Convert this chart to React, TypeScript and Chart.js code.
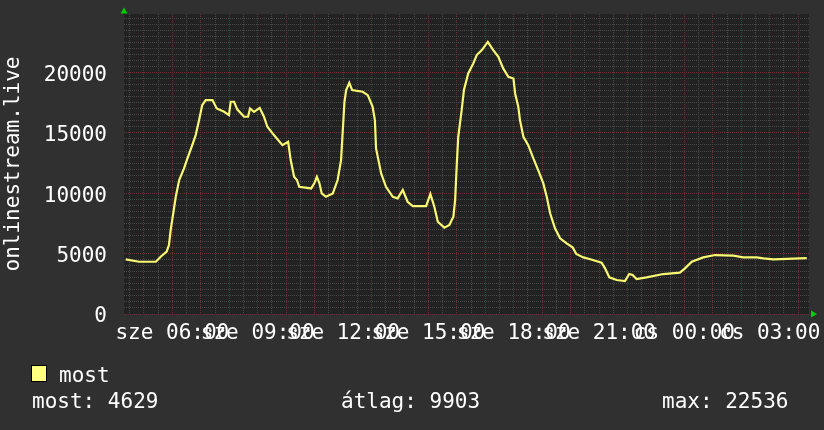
import React, { useEffect, useRef } from "react";
import { Chart, registerables } from "chart.js";

Chart.register(...registerables);

// time in hours from the start day's midnight (values >= 24 fall on the next day)
const times = [
  4.36, 4.83, 5.42, 5.59, 5.80, 5.88, 5.94, 6.04, 6.12, 6.24,
  6.41, 6.53, 6.70, 6.82, 6.94, 7.05, 7.17, 7.41, 7.56, 7.82,
  7.99, 8.05, 8.17, 8.28, 8.52, 8.66, 8.73, 8.87, 9.07, 9.22,
  9.34, 9.57, 9.87, 10.07, 10.16, 10.28, 10.38, 10.46, 10.88, 10.99,
  11.08, 11.17, 11.25, 11.40, 11.64, 11.81, 11.93, 12.05, 12.11, 12.22,
  12.32, 12.69, 12.87, 13.04, 13.12, 13.16, 13.34, 13.51, 13.75, 13.92,
  14.10, 14.27, 14.45, 14.92, 15.07, 15.21, 15.33, 15.56, 15.74, 15.82,
  15.88, 15.94, 16.00, 16.05, 16.17, 16.25, 16.40, 16.58, 16.70, 16.88,
  17.09, 17.28, 17.46, 17.63, 17.81, 17.99, 18.05, 18.16, 18.22, 18.34,
  18.51, 18.69, 18.86, 19.04, 19.16, 19.28, 19.45, 19.63, 19.86, 20.07,
  20.20, 20.45, 20.69, 21.09, 21.21, 21.36, 21.62, 21.91, 22.06, 22.18,
  22.32, 22.67, 23.26, 23.84, 24.02, 24.26, 24.66, 25.08, 25.72, 26.07,
  26.54, 26.78, 27.13, 28.30,
];

const viewers = [
  4530, 4330, 4330, 4745, 5160, 5710, 6955, 8470, 9710, 11095,
  12060, 12890, 13990, 14820, 16060, 17300, 17720, 17720, 17030, 16750,
  16480, 17580, 17580, 16950, 16340, 16340, 17030, 16750, 17080, 16340,
  15510, 14820, 13990, 14270, 12750, 11370, 11100, 10540, 10400, 10820,
  11370, 10820, 9990, 9710, 9990, 11095, 12750, 17580, 18550, 19150,
  18550, 18410, 18130, 17170, 16060, 13720, 11650, 10540, 9710, 9580,
  10270, 9300, 8940, 8940, 9935, 8885, 7640, 7150, 7370, 7780,
  8060, 9440, 12480, 14680, 16890, 18550, 19930, 20760, 21450, 21860,
  22536, 21860, 21310, 20340, 19650, 19510, 18270, 17170, 16060, 14680,
  13990, 12890, 11920, 10820, 9710, 8340, 7100, 6270, 5850, 5520,
  4970, 4690, 4530, 4250, 3780, 3040, 2815, 2730, 3310, 3230,
  2900, 3040, 3310, 3420, 3780, 4330, 4690, 4885, 4830, 4690,
  4690, 4610, 4530, 4629,
];

const labelHours = [6, 9, 12, 15, 18, 21, 24, 27];
const dayNames = ["sze", "cs"];
const yLabelValues = [0, 5000, 10000, 15000, 20000];

const seriesName = "most";
const axisTitle = "onlinestream.live";
const statLabels = ["most: 4629", "átlag: 9903", "max: 22536"];

const X_MIN = 4.3;
const X_MAX = 28.38;
const Y_MAX = 24850;

const FONT = '21px "DejaVu Sans Mono", monospace';
const LINE_COLOR = "#f8f872";
const MAJOR_GRID = "#6c2f2f";
const MINOR_GRID = "#474747";

function hourLabel(h: number): string {
  const day = h < 24 ? dayNames[0] : dayNames[1];
  const hh = Math.round(h) % 24;
  return `${day} ${String(hh).padStart(2, "0")}:00`;
}

const decorPlugin = {
  id: "decor",
  beforeDraw(chart: any) {
    const { ctx, chartArea } = chart;
    ctx.save();
    ctx.fillStyle = "#303030";
    ctx.fillRect(0, 0, chart.width, chart.height);
    ctx.fillStyle = "#222222";
    ctx.fillRect(chartArea.left, chartArea.top, chartArea.right - chartArea.left, chartArea.bottom - chartArea.top);
    ctx.restore();
  },
  afterDraw(chart: any) {
    const { ctx, chartArea } = chart;
    ctx.save();
    // arrows
    ctx.fillStyle = "#00d000";
    ctx.beginPath();
    ctx.moveTo(chartArea.left - 3.5, 13.5);
    ctx.lineTo(chartArea.left + 3.5, 13.5);
    ctx.lineTo(chartArea.left, 7.5);
    ctx.closePath();
    ctx.fill();
    ctx.beginPath();
    ctx.moveTo(chartArea.right + 2, chartArea.bottom - 3.5);
    ctx.lineTo(chartArea.right + 2, chartArea.bottom + 3.5);
    ctx.lineTo(chartArea.right + 8, chartArea.bottom);
    ctx.closePath();
    ctx.fill();

    ctx.font = FONT;
    ctx.fillStyle = "#ffffff";
    // y axis title
    ctx.save();
    ctx.translate(18.5, (chartArea.top + chartArea.bottom) / 2);
    ctx.rotate(-Math.PI / 2);
    ctx.textAlign = "center";
    ctx.textBaseline = "alphabetic";
    ctx.fillText(axisTitle, 0, 0);
    ctx.restore();

    // legend
    ctx.fillStyle = "#ffff80";
    ctx.fillRect(32, 366, 14, 15);
    ctx.strokeStyle = "#000000";
    ctx.lineWidth = 1;
    ctx.strokeRect(31.5, 365.5, 15, 16);
    ctx.fillStyle = "#ffffff";
    ctx.textAlign = "left";
    ctx.textBaseline = "alphabetic";
    ctx.fillText(seriesName, 59, 382);
    ctx.fillText(statLabels[0], 32, 408);
    ctx.fillText(statLabels[1], 341, 408);
    ctx.fillText(statLabels[2], 662, 408);
    ctx.restore();
  },
};

export default function App() {
  const ref = useRef<HTMLCanvasElement>(null);

  useEffect(() => {
    if (!ref.current) return;
    const data = times.map((t, i) => ({ x: t, y: viewers[i] }));
    const chart = new Chart(ref.current, {
      type: "line",
      data: {
        datasets: [
          {
            label: seriesName,
            data,
            borderColor: LINE_COLOR,
            borderWidth: 2.2,
            pointRadius: 0,
            fill: false,
            tension: 0,
          },
        ],
      },
      options: {
        animation: false,
        responsive: false,
        devicePixelRatio: 1,
        layout: { padding: { top: 14, right: 15, bottom: 0, left: 0 } },
        plugins: {
          legend: { display: false },
          tooltip: { enabled: false },
        },
        scales: {
          x: {
            type: "linear",
            min: X_MIN,
            max: X_MAX,
            afterBuildTicks: (scale: any) => {
              const ticks = [];
              for (let h = Math.ceil(X_MIN * 2) / 2; h <= X_MAX; h += 0.5) ticks.push({ value: h });
              scale.ticks = ticks;
            },
            afterFit: (scale: any) => {
              scale.height = 116;
              scale.paddingLeft = 0;
              scale.paddingRight = 0;
              scale.paddingTop = 0;
              scale.paddingBottom = 0;
            },
            ticks: {
              autoSkip: false,
              maxRotation: 0,
              minRotation: 0,
              padding: 7,
              color: "#ffffff",
              font: { family: '"DejaVu Sans Mono", monospace', size: 21 },
              callback: (v: any) => (labelHours.includes(Number(v)) ? hourLabel(Number(v)) : ""),
            },
            grid: {
              drawTicks: false,
              color: (c: any) => (c.tick && Number.isInteger(c.tick.value) ? MAJOR_GRID : MINOR_GRID),
              lineWidth: 1,
            },
            border: { display: false, dash: [1, 1] },
          },
          y: {
            type: "linear",
            min: 0,
            max: Y_MAX,
            afterBuildTicks: (scale: any) => {
              const ticks = [];
              for (let v = 0; v <= Y_MAX; v += 500) ticks.push({ value: v });
              scale.ticks = ticks;
            },
            afterFit: (scale: any) => {
              scale.width = 124;
              scale.paddingTop = 0;
              scale.paddingBottom = 0;
              scale.paddingLeft = 0;
              scale.paddingRight = 0;
            },
            ticks: {
              autoSkip: false,
              padding: 17,
              labelOffset: 3,
              color: "#ffffff",
              font: { family: '"DejaVu Sans Mono", monospace', size: 21 },
              callback: (v: any) => (yLabelValues.includes(Number(v)) ? String(v) : ""),
            },
            grid: {
              drawTicks: false,
              color: (c: any) => (c.tick && c.tick.value % 5000 === 0 ? MAJOR_GRID : MINOR_GRID),
              lineWidth: 1,
            },
            border: { display: false, dash: [1, 1] },
          },
        },
      },
      plugins: [decorPlugin],
    } as any);
    return () => chart.destroy();
  }, []);

  return (
    <div style={{ position: "fixed", left: 0, top: 0, width: 824, height: 430 }}>
      <canvas ref={ref} width={824} height={430} style={{ width: 824, height: 430, display: "block" }} />
    </div>
  );
}
